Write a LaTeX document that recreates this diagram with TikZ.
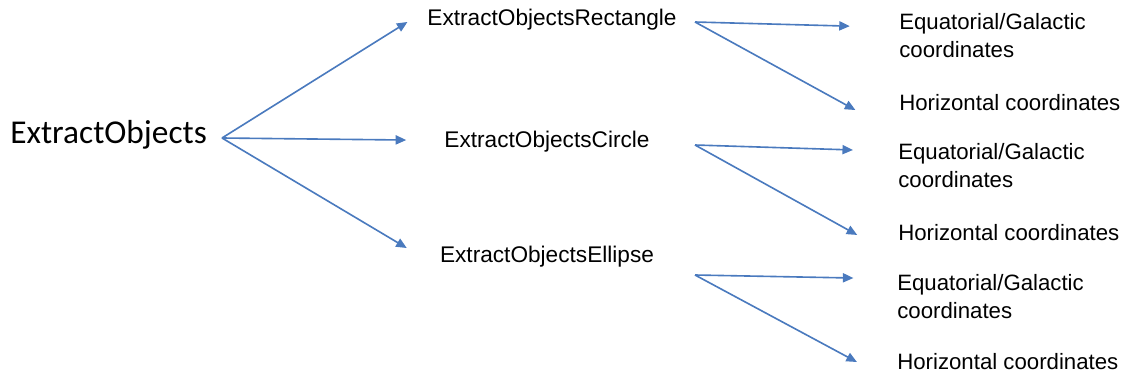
\documentclass[tikz,border=0pt]{standalone}
\usepackage{fontspec}
\setmainfont{Liberation Sans}
\newfontfamily\rootfont{Carlito}
\usepackage{tikz}
\usetikzlibrary{arrows.meta, positioning, calc}
\definecolor{oblue}{RGB}{74, 122, 190}

\begin{document}
\begin{tikzpicture}[x=0.025cm, y=-0.025cm,
    arr/.style={-{Triangle[length=7.5pt, width=6.5pt]}, oblue, line width=1.15pt},
    lbl/.style={inner sep=0pt, font=\fontsize{15.8}{19.9}\selectfont, align=left, anchor=west},
    midlbl/.style={lbl, anchor=center, font=\fontsize{16.1}{19.9}\selectfont}]
  \useasboundingbox (0,0) rectangle (1128,376);
  % Root
  \node[inner sep=0pt, anchor=west, font=\rootfont\fontsize{23.7}{28}\selectfont]
    (root) at (10,135) {ExtractObjects};
  % Second level
  \node[midlbl] (rect) at (552,20) {ExtractObjectsRectangle};
  \node[midlbl] (circ) at (547,142) {ExtractObjectsCircle};
  \node[midlbl] (ell) at (547,257) {ExtractObjectsEllipse};
  % Leaves
  \node[lbl] (eq1) at (899,36) {Equatorial/Galactic\\coordinates};
  \node[lbl] (hor1) at (899,103) {Horizontal coordinates};
  \node[lbl] (eq2) at (898,166) {Equatorial/Galactic\\coordinates};
  \node[lbl] (hor2) at (898,233) {Horizontal coordinates};
  \node[lbl] (eq3) at (897,297) {Equatorial/Galactic\\coordinates};
  \node[lbl] (hor3) at (897,362) {Horizontal coordinates};
  % Fan points
  \coordinate (rootfan) at (222,138);
  \coordinate (rectfan) at (695,22);
  \coordinate (circfan) at (695,145);
  \coordinate (ellfan) at (695,275);
  % Root arrows
  \draw[arr] (rootfan) -- ([xshift=-14pt,yshift=-1.4pt]rect.west);
  \draw[arr] (rootfan) -- ([xshift=-27pt,yshift=1.4pt]circ.west);
  \draw[arr] (rootfan) -- ([xshift=-23.5pt,yshift=6.4pt]ell.west);
  % Leaf arrows
  \draw[arr] (rectfan) -- ([xshift=-35pt,yshift=7pt]eq1.west);
  \draw[arr] (rectfan) -- ([xshift=-31pt,yshift=-5pt]hor1.west);
  \draw[arr] (circfan) -- ([xshift=-32pt,yshift=11.4pt]eq2.west);
  \draw[arr] (circfan) -- ([xshift=-29pt,yshift=-1.4pt]hor2.west);
  \draw[arr] (ellfan) -- ([xshift=-31pt,yshift=13.5pt]eq3.west);
  \draw[arr] (ellfan) -- ([xshift=-28.5pt]hor3.west);
\end{tikzpicture}
\end{document}
